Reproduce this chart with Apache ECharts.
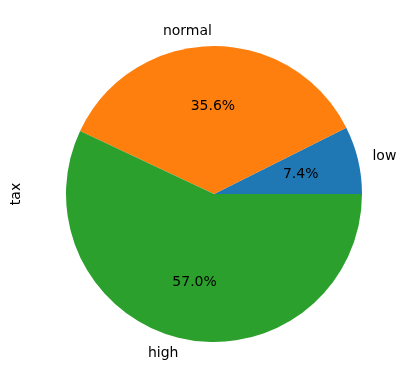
<!DOCTYPE html>
<html><head><meta charset="utf-8">
<script src="https://cdn.jsdelivr.net/npm/echarts@6/dist/echarts.min.js"></script>
<style>html,body{margin:0;padding:0;background:#fff}#c{width:409px;height:389px}</style>
</head><body><div id="c"></div>
<script>
const categories = ['low', 'normal', 'high'];
const values = [7.4, 35.6, 57.0];
const colors = ['#1f77b4', '#ff7f0e', '#2ca02c'];
const yLabel = 'tax';

const R = 148;
const cx = 214, cy = 194;
const font = 'DejaVu Sans';
const data = categories.map((c, i) => ({ name: c, value: values[i], itemStyle: { color: colors[i] } }));

const chart = echarts.init(document.getElementById('c'), null, { renderer: 'canvas' });
chart.setOption({
  animation: false,
  backgroundColor: '#fff',
  graphic: [{
    type: 'text', rotation: Math.PI / 2,
    style: { text: yLabel, font: '14px "' + font + '"', fill: '#000', textAlign: 'center', textVerticalAlign: 'middle' },
    x: 16, y: cy
  }],
  series: [
    {
      type: 'pie', center: [cx, cy], radius: [0, R], startAngle: 0, clockwise: false,
      avoidLabelOverlap: false, silent: true,
      data: data,
      label: { show: true, position: 'outside', color: '#000', fontFamily: font, fontSize: 14, formatter: '{b}', distanceToLabelLine: 0 },
      labelLine: { show: false, length: 0.1 * R, length2: 0 },
      itemStyle: { borderWidth: 0 }
    },
    {
      type: 'pie', center: [cx, cy], radius: [0, 1.163 * R], startAngle: 0, clockwise: false,
      avoidLabelOverlap: false, silent: true,
      data: data.map(d => ({ name: d.name, value: d.value })),
      itemStyle: { color: 'rgba(0,0,0,0)', borderWidth: 0 },
      label: { show: true, position: 'inside', color: '#000', fontFamily: font, fontSize: 14, offset: [0, 1],
        formatter: p => p.value.toFixed(1) + '%' },
      labelLine: { show: false }
    }
  ]
});
</script></body></html>
